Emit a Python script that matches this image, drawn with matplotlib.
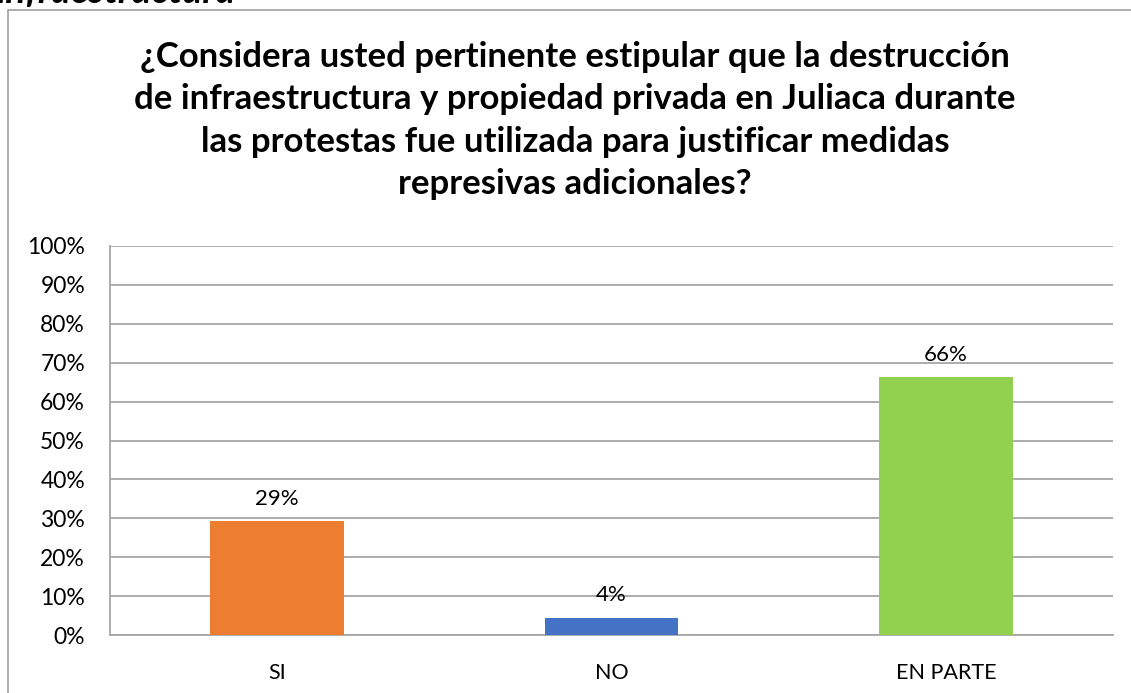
import matplotlib.pyplot as plt
from matplotlib.patches import Rectangle
from matplotlib.ticker import FuncFormatter

categorias = ['SI', 'NO', 'EN PARTE']
porcentajes = [0.293, 0.044, 0.663]
etiquetas = ['29%', '4%', '66%']
colores = ['#ED7D31', '#4472C4', '#92D050']
titulo = ('¿Considera usted pertinente estipular que la destrucción\n'
          'de infraestructura y propiedad privada en Juliaca durante\n'
          'las protestas fue utilizada para justificar medidas\n'
          'represivas adicionales?')

plt.rcParams['font.family'] = ['Lato', 'DejaVu Sans']

W, H = 1131, 693
fig = plt.figure(figsize=(W / 100, H / 100), dpi=100)

# marco del grafico (se sale por la derecha y por abajo)
fig.patches.append(Rectangle((8 / W, -0.05), 1.2, 1 - 10 / H + 0.05,
                             transform=fig.transFigure, fill=False,
                             edgecolor='#a0a0a0', lw=1.2))

# texto cortado arriba a la izquierda
fig.text(-4 / W, 1 - 3 / H, 'infraestructura', fontsize=27, fontweight='bold',
         fontstyle='italic', ha='left', va='baseline')

fig.text(575 / W, 1 - 41 / H, titulo, fontsize=25, fontweight='bold',
         ha='center', va='top', linespacing=1.4)

ax = fig.add_axes([110 / W, 1 - 635 / H, 1003 / W, 389 / H])
x = range(len(categorias))
ax.bar(x, porcentajes, width=0.4, color=colores, zorder=3)
for i, (v, t) in enumerate(zip(porcentajes, etiquetas)):
    ax.annotate(t, (i, v), xytext=(0, 9), textcoords='offset points',
                ha='center', va='bottom', fontsize=16)

ax.set_xlim(-0.5, 2.5)
ax.set_ylim(0, 1)
ax.set_yticks([i / 10 for i in range(11)])
ax.yaxis.set_major_formatter(FuncFormatter(lambda v, p: f'{v:.0%}'))
ax.set_xticks(list(x))
ax.set_xticklabels(categorias)
ax.tick_params(length=0)
ax.tick_params(axis='y', labelsize=16.5, pad=18)
ax.tick_params(axis='x', labelsize=15.5, pad=20)
ax.grid(axis='y', color='#a6a6a6', lw=1.3, zorder=0)
for s in ['top', 'right']:
    ax.spines[s].set_visible(False)
for s in ['left', 'bottom']:
    ax.spines[s].set_color('#a6a6a6')
    ax.spines[s].set_linewidth(1.3)

fig.savefig('out.png', dpi=100)
